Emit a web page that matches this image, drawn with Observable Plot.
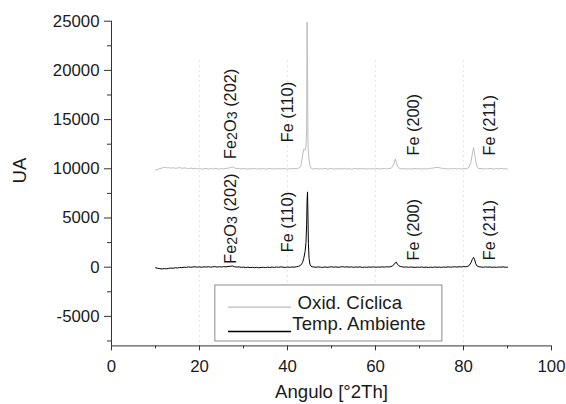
<!DOCTYPE html>
<html><head><meta charset="utf-8">
<script src="https://cdn.jsdelivr.net/npm/d3@7"></script>
<script src="https://cdn.jsdelivr.net/npm/@observablehq/plot@0.6"></script>
<style>body{margin:0;background:#fff}</style>
</head><body><div id="chart"></div>
<script>
// Diffraction angle (°2Th), shared by both patterns
const angles = [
  10,10.5,11,11.5,12,12.5,13,13.5,14,14.5,15,15.5,16,16.5,17,17.5,18,18.5,19,19.5,
  20,20.5,21,21.5,22,22.5,23,23.5,24,24.5,25,25.5,26,26.5,27,27.5,28,28.5,29,29.5,
  30,30.5,31,31.5,32,32.5,33,33.5,34,34.5,35,35.5,36,36.5,37,37.5,38,38.5,39,39.5,
  40,40.5,41,41.5,42,42.5,
  43,43.4,43.7,44,44.2,44.35,44.45,44.55,44.65,44.75,44.9,45.1,45.3,45.6,
  46,46.5,47,47.5,48,48.5,49,49.5,50,50.5,51,51.5,52,52.5,53,53.5,54,54.5,55,55.5,
  56,56.5,57,57.5,58,58.5,59,59.5,60,60.5,61,61.5,62,62.5,63,63.5,
  63.8,64.2,64.5,64.7,65,65.3,65.6,
  66,66.5,67,67.5,68,68.5,69,69.5,70,70.5,71,71.5,72,72.5,73,73.5,74,74.5,75,75.5,
  76,76.5,77,77.5,78,78.5,79,79.5,80,80.5,81,
  81.3,81.7,82,82.3,82.5,82.8,83.1,83.5,
  84,84.5,85,85.5,86,86.5,87,87.5,88,88.5,89,89.5,90
];
// Oxid. Cíclica (UA)
const oxid = [
  9880,9950,10020,10080,10150,10100,10120,10060,10110,10050,10080,10130,10040,10090,10060,10010,10070,10020,10050,9990,
  10030,9960,10010,10040,9970,10020,9980,10050,10000,9960,10030,9990,10040,10060,10120,10180,10070,10010,10050,9980,
  10030,10000,9960,10020,9990,10040,9970,10010,9980,10030,9960,10000,10040,9970,10010,9990,10020,9980,10030,10000,
  9970,10020,9990,10040,10010,10060,
  10200,11300,12000,11900,12200,14000,24900,20500,12800,11600,10900,10350,10100,10000,
  9990,10030,9970,10010,9980,10040,9960,10000,10030,9970,10010,9980,10020,9990,10050,9970,10010,9960,10000,10040,
  9980,10020,9990,10030,9970,10010,9980,10020,9990,10030,9970,10010,10040,9980,10020,10060,
  10150,10500,11000,10700,10250,10080,10020,
  9990,10030,9970,10010,9980,10000,10040,9990,10020,9970,10010,9980,10020,10050,10070,10110,10150,10110,10060,10010,
  10030,9970,10020,9990,10040,9980,10010,9970,10020,10000,10060,
  10200,10700,11500,12150,11600,10700,10150,10020,
  10040,9980,10020,9990,10040,10000,9970,10030,9990,10050,9980,10010,9970
];
// Temp. Ambiente (UA)
const temp = [
  -60,-110,-150,-180,-140,-170,-120,-90,-110,-60,-80,-30,-50,0,-20,30,-10,20,40,0,
  30,-10,40,10,50,0,30,60,10,40,20,60,30,70,90,120,40,10,30,-20,
  10,-30,0,-40,-10,-50,-20,-60,-30,-10,-40,0,-30,10,-20,20,-10,30,0,-20,
  10,-10,20,0,40,80,
  200,450,900,1600,2500,4300,6800,7650,5200,2400,900,300,120,40,
  20,-10,30,0,-20,20,-10,10,40,0,30,-10,20,50,10,40,0,30,-10,20,
  0,30,-20,10,-10,20,0,30,-10,20,0,30,10,40,20,60,
  120,260,450,520,300,150,80,
  40,0,30,-10,20,0,-20,10,-10,20,-20,10,-30,0,-20,20,-10,10,-20,20,
  -10,30,0,20,40,10,50,20,60,40,90,
  180,450,800,1000,800,350,120,40,
  20,-10,30,0,20,-10,10,-20,20,0,30,-10,10
];

const seriesNames = ["Oxid. Cíclica", "Temp. Ambiente"];
const seriesColors = ["#bdbdbd", "#000000"];
const xTicks = [0, 20, 40, 60, 80, 100];
const xMinorTicks = [10, 30, 50, 70, 90];
const yTicks = [-5000, 0, 5000, 10000, 15000, 20000, 25000];
const yMinorTicks = [-7500, -2500, 2500, 7500, 12500, 17500, 22500];
const gridAngles = [20, 40, 60, 80];
const peakNames = ["Fe2O3 (202)", "Fe (110)", "Fe (200)", "Fe (211)"];
const peakLabelAngles = [27.2, 40.1, 68.6, 85.9];
const upperLabelValues = [11000, 12700, 11350, 11350];
const lowerLabelValues = [350, 1520, 680, 700];

// layout (data units)
const xDomain = [0, 100];
const yDomain = [-8000, 25000];
const gridTop = 21000;
const legendBox = {x1: 23.6, x2: 75.2, y1: -1860, y2: -7550};
const legendSwatchX = [26.6, 40.9];
const legendSwatchY = [-4065, -6535];
const legendTextX = [42.3, 41.1];
const legendTextY = [-4228, -6433];

const rows = [];
angles.forEach((a, i) => {
  rows.push({angle: a, value: oxid[i], series: seriesNames[0]});
  rows.push({angle: a, value: temp[i], series: seriesNames[1]});
});
const labelRows = [];
peakNames.forEach((n, i) => {
  labelRows.push({name: n, angle: peakLabelAngles[i], value: upperLabelValues[i]});
  labelRows.push({name: n, angle: peakLabelAngles[i], value: lowerLabelValues[i]});
});
const legendRows = seriesNames.map((s, i) => ({
  series: s, sy: legendSwatchY[i], tx: legendTextX[i], ty: legendTextY[i]
}));

const axisColor = "#333";
const textColor = "#1a1a1a";
const fmt = d => String(d);

const chart = Plot.plot({
  width: 566, height: 404,
  marginLeft: 111, marginRight: 15, marginTop: 20.7, marginBottom: 58.6,
  x: {domain: xDomain},
  y: {domain: yDomain},
  color: {domain: seriesNames, range: seriesColors},
  style: {fontFamily: "'Liberation Sans', Arial, sans-serif", fontSize: "16.8px", color: textColor, background: "#fff"},
  marks: [
    Plot.ruleX(gridAngles, {y1: gridTop, y2: yDomain[0], stroke: "#e6e6e6", strokeDasharray: "2,3"}),
    Plot.line(rows, {x: "angle", y: "value", z: "series", stroke: "series", strokeWidth: 1}),
    Plot.text(labelRows, {x: "angle", y: "value", text: "name", rotate: -90, textAnchor: "start", fontSize: 16.3, fill: textColor}),
    Plot.axisX(xTicks, {tickSize: 5, tickPadding: 9.4, tickFormat: fmt, label: null, stroke: axisColor, fill: textColor}),
    Plot.axisX(xMinorTicks, {tickSize: 3, tickFormat: () => "", label: null, stroke: axisColor}),
    Plot.axisY(yTicks, {tickSize: 7, tickPadding: 5, tickFormat: fmt, label: null, stroke: axisColor, fill: textColor}),
    Plot.axisY(yMinorTicks, {tickSize: 4, tickFormat: () => "", label: null, stroke: axisColor}),
    Plot.ruleX([xDomain[0]], {stroke: axisColor}),
    Plot.ruleY([yDomain[0]], {stroke: axisColor}),
    Plot.text(["Angulo [°2Th]"], {frameAnchor: "bottom", lineAnchor: "bottom", dy: 51.6, fontSize: 18.6, fill: textColor}),
    Plot.text(["UA"], {frameAnchor: "left", dx: -91, rotate: -90, fontSize: 18.6, fill: textColor}),
    Plot.rect([legendBox], {x1: "x1", x2: "x2", y1: "y1", y2: "y2", fill: "white", stroke: "#8c8c8c", strokeWidth: 1}),
    Plot.ruleY(legendRows, {y: "sy", x1: legendSwatchX[0], x2: legendSwatchX[1], stroke: "series", strokeWidth: 1.3}),
    Plot.text(legendRows, {x: "tx", y: "ty", text: "series", textAnchor: "start", lineAnchor: "bottom", fontSize: 18.6, fill: textColor})
  ]
});

// subscripts for Fe2O3
chart.querySelectorAll("text").forEach(t => {
  if (t.textContent === "Fe2O3 (202)") {
    t.textContent = "";
    const parts = [["Fe", false], ["2", true], ["O", false], ["3", true], [" (202)", false]];
    let shifted = false;
    parts.forEach(([s, sub]) => {
      const ts = document.createElementNS("http://www.w3.org/2000/svg", "tspan");
      ts.textContent = s;
      if (sub) { ts.setAttribute("font-size", "0.88em"); ts.setAttribute("dy", "0.05em"); shifted = true; }
      else if (shifted) { ts.setAttribute("dy", "-0.05em"); shifted = false; }
      t.appendChild(ts);
    });
  }
});

document.getElementById("chart").appendChild(chart);
</script>
</body></html>
